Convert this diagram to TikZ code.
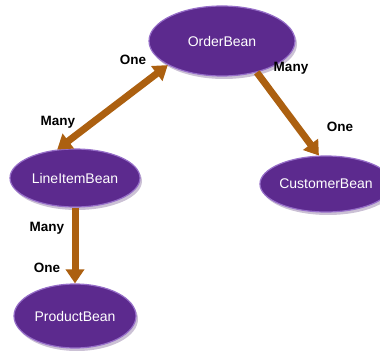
\documentclass[tikz,border=0pt]{standalone}
\usepackage{fontspec}
\setmainfont{Liberation Sans}
\usepackage{tikz}
\usepackage{xcolor}
\usetikzlibrary{shapes,arrows.meta,positioning,shadows}
\definecolor{beancolor}{RGB}{92,42,142}
\definecolor{rimcolor}{RGB}{150,110,200}
\definecolor{linkcolor}{RGB}{172,96,16}

\begin{document}
\begin{tikzpicture}[
    x=1pt, y=-1pt,
    bean/.style={ellipse, draw=rimcolor, line width=1.2pt, fill=beancolor, text=white, font=\fontsize{14}{16}\selectfont, inner sep=0pt, drop shadow={shadow xshift=2pt, shadow yshift=-3pt, opacity=0.35, fill=beancolor!60!gray}},
    card/.style={font=\bfseries\fontsize{13.5}{15}\selectfont, inner sep=0pt},
    link/.style={linkcolor, line width=7pt, -{Triangle[width=18pt,length=14pt]}}
]
\useasboundingbox (0,0) rectangle (380,355);

% Beans
\node[bean, minimum width=146pt, minimum height=70pt] (order) at (222,41) {OrderBean};
\node[bean, minimum width=130pt, minimum height=58pt] (lineitem) at (75,178) {LineItemBean};
\node[bean, minimum width=104pt, minimum height=56pt] (customer) at (326,184) {CustomerBean};
\node[bean, minimum width=122pt, minimum height=64pt] (product) at (75,316) {ProductBean};

% Arrows
\draw[link, {Triangle[width=18pt,length=14pt]}-{Triangle[width=18pt,length=14pt]}] (order.204) -- (lineitem.122);
\draw[link] (order.318) -- (customer.104);
\draw[link] (lineitem.south) -- (product.north);

% Cardinalities
\node[card] (c1) at (133,60) {One};
\node[card] (c2) at (58,122) {Many};
\node[card] (c3) at (291,68) {Many};
\node[card] (c4) at (340,127) {One};
\node[card] (c5) at (47,228) {Many};
\node[card] (c6) at (47,268) {One};

\end{tikzpicture}
\end{document}
